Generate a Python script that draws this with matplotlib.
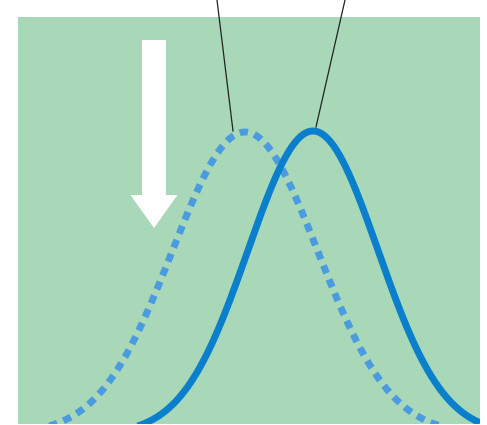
import numpy as np
import matplotlib.pyplot as plt
from matplotlib.patches import FancyArrow

plt.rcParams['lines.scale_dashes'] = False

# two bell curves: before (dashed) and after (solid) the shift
curve_names = ['before', 'after']
curve_means = [22.7, 29.5]
curve_sds = [7.26, 6.5]
curve_peaks = [30.2, 30.3]
baseline = -1.0   # curves sit a little below the bottom edge

# callout lines: (x at top, y at top) -> (x on curve, y on curve)
callout_top = [(19.9, 42.4), (32.7, 42.4)]
callout_end = [(21.5, 29.3), (29.8, 29.7)]

# downward arrow
arrow_x = 13.6
arrow_top = 38.4
arrow_tip = 19.6

GREEN = '#a9d8b8'
SOLID = '#0a80cc'
DASHED = '#4b9be0'

fig = plt.figure(figsize=(4.87, 4.25), dpi=100)
ax = fig.add_axes([18/487, 1 - 424/425, 462/487, 407/425])
ax.set_facecolor(GREEN)
ax.set_xlim(0, 46.2)
ax.set_ylim(0, 40.7)
for s in ax.spines.values():
    s.set_visible(False)
ax.set_xticks([])
ax.set_yticks([])

x = np.linspace(0, 46.2, 600)
for name, m, sd, pk in zip(curve_names, curve_means, curve_sds, curve_peaks):
    y = baseline + pk * np.exp(-(x - m)**2 / (2 * sd**2))
    if name == 'before':
        ax.plot(x, y, color=DASHED, lw=5, linestyle=(0, (6.0, 4.8)),
                dash_capstyle='butt', zorder=2)
    else:
        ax.plot(x, y, color=SOLID, lw=5, solid_capstyle='butt', zorder=3)

for (x0, y0), (x1, y1) in zip(callout_top, callout_end):
    ax.plot([x0, x1], [y0, y1], color='#222222', lw=0.9, clip_on=False, zorder=4)

arr = FancyArrow(arrow_x, arrow_top, 0, arrow_tip - arrow_top,
                 width=2.4, head_width=4.7, head_length=3.3,
                 length_includes_head=True, color='white', lw=0, zorder=5)
ax.add_patch(arr)

fig.savefig('out.png', dpi=100)
